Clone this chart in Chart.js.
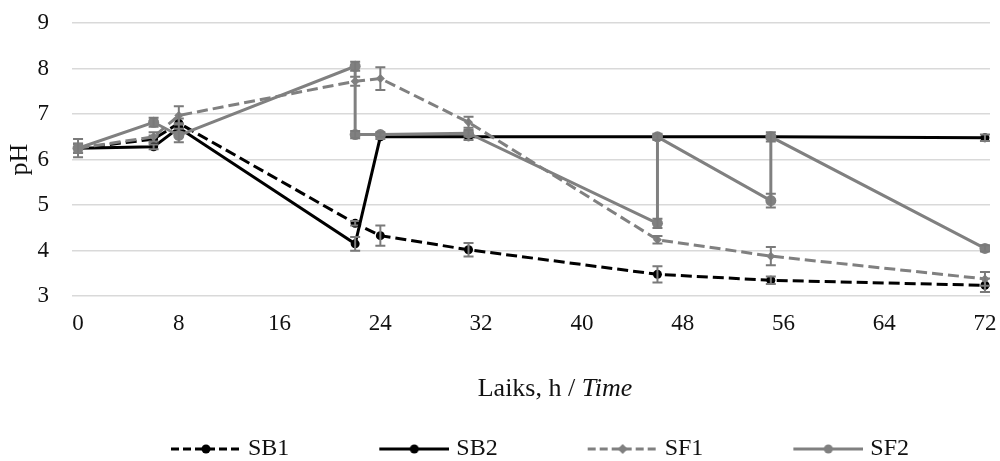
<!DOCTYPE html>
<html>
<head>
<meta charset="utf-8">
<script src="https://cdn.jsdelivr.net/npm/chart.js@4.4.1/dist/chart.umd.min.js"></script>
<style>
  html, body { margin: 0; padding: 0; background: #fff; }
  #wrap { width: 1000px; height: 461px; }
</style>
</head>
<body>
<div id="wrap"><canvas id="phChart"></canvas></div>
<script>
// sampling times (h)
const hours = [0, 6, 8, 22, 24, 31, 46, 55, 72];
// SF2 has a second reading at 22, 46 and 55 h (after re-feeding)
const hoursSF2 = [0, 6, 8, 22, 22, 24, 31, 46, 46, 55, 55, 72];

const sb1 = [6.25, 6.45, 6.8, 4.6, 4.33, 4.02, 3.48, 3.35, 3.24];
const sb1Err = [0.1, 0.08, 0.1, 0.05, 0.22, 0.15, 0.18, 0.08, 0.15];

const sb2 = [6.25, 6.28, 6.7, 4.15, 6.5, 6.5, 6.5, 6.5, 6.48];
const sb2Err = [0.1, 0.05, 0.1, 0.15, 0.05, 0.07, 0.05, 0.05, 0.07];

const sf1 = [6.25, 6.5, 6.97, 7.72, 7.78, 6.82, 4.24, 3.88, 3.38];
const sf1Err = [0.1, 0.1, 0.2, 0.1, 0.25, 0.12, 0.08, 0.2, 0.15];

const sf2 = [6.25, 6.82, 6.53, 8.05, 6.55, 6.55, 6.58, 4.6, 6.5, 5.1, 6.5, 4.05];
const sf2Err = [0.2, 0.1, 0.15, 0.1, 0.08, 0.05, 0.07, 0.1, 0.07, 0.15, 0.1, 0.07];

const xTicks = [0, 8, 16, 24, 32, 40, 48, 56, 64, 72];
const yTicks = [3, 4, 5, 6, 7, 8, 9];

const BLACK = '#000000';
const GREY = '#808080';
const TEXT = '#111111';
const FONT = "'Liberation Serif', 'Times New Roman', serif";

function points(xs, ys) {
    return xs.map((x, i) => ({ x: x, y: ys[i] }));
}

// line + marker sample for the legend; blank left part acts as item spacing,
// the canvas is a bit wider than the legend box so the line ends close to the text
function legendSample(color, dash, marker) {
    const c = document.createElement('canvas');
    c.width = 165;
    c.height = 14;
    const g = c.getContext('2d');
    const x0 = 95, x1 = 165, mid = (x0 + x1) / 2;
    g.strokeStyle = color;
    g.lineWidth = 3;
    g.setLineDash(dash);
    g.beginPath();
    g.moveTo(x0, 7);
    g.lineTo(x1, 7);
    g.stroke();
    g.setLineDash([]);
    g.fillStyle = color;
    g.beginPath();
    if (marker === 'diamond') {
        g.moveTo(mid, 2); g.lineTo(mid + 5, 7); g.lineTo(mid, 12); g.lineTo(mid - 5, 7);
        g.closePath();
    } else {
        g.arc(mid, 7, 4.5, 0, Math.PI * 2);
    }
    g.fill();
    return c;
}

// vertical error bars with caps
const errorBars = {
    id: 'errorBars',
    afterDatasetDraw(chart, args) {
        const ds = chart.data.datasets[args.index];
        if (!ds.errors) return;
        const ctx = chart.ctx;
        const x = chart.scales.x, y = chart.scales.y;
        ctx.save();
        ctx.strokeStyle = '#7a7a7a';
        ctx.lineWidth = 2;
        ds.data.forEach((p, i) => {
            const e = ds.errors[i];
            const px = x.getPixelForValue(p.x);
            const top = y.getPixelForValue(p.y + e);
            const bot = y.getPixelForValue(p.y - e);
            ctx.beginPath();
            ctx.moveTo(px, top); ctx.lineTo(px, bot);
            ctx.moveTo(px - 5, top); ctx.lineTo(px + 5, top);
            ctx.moveTo(px - 5, bot); ctx.lineTo(px + 5, bot);
            ctx.stroke();
        });
        ctx.restore();
    }
};

// x-axis title with an italic part
const xTitle = {
    id: 'xTitle',
    afterDraw(chart) {
        const ctx = chart.ctx;
        const sx = chart.scales.x;
        const size = 26, lh = size * 1.2, padBottom = 32;
        const y = sx.bottom - padBottom - lh / 2;
        const partA = 'Laiks, h / ';
        const partB = 'Time';
        ctx.save();
        ctx.textBaseline = 'middle';
        ctx.fillStyle = TEXT;
        ctx.font = size + 'px ' + FONT;
        const wA = ctx.measureText(partA).width;
        ctx.font = 'italic ' + size + 'px ' + FONT;
        const wB = ctx.measureText(partB).width;
        const cx = (chart.chartArea.left + chart.chartArea.right) / 2 + 24;
        const start = cx - (wA + wB) / 2;
        ctx.textAlign = 'left';
        ctx.font = size + 'px ' + FONT;
        ctx.fillText(partA, start, y);
        ctx.font = 'italic ' + size + 'px ' + FONT;
        ctx.fillText(partB, start + wA, y);
        ctx.restore();
    }
};

const samples = [
    legendSample(BLACK, [8, 4], 'circle'),
    legendSample(BLACK, [], 'circle'),
    legendSample(GREY, [8, 4], 'diamond'),
    legendSample(GREY, [], 'circle')
];

const ctx = document.getElementById('phChart').getContext('2d');
new Chart(ctx, {
    type: 'line',
    data: {
        datasets: [
            {
                label: 'SB1',
                data: points(hours, sb1),
                errors: sb1Err,
                borderColor: BLACK,
                backgroundColor: BLACK,
                borderWidth: 3,
                borderDash: [11, 5],
                pointRadius: 4.5,
                pointBackgroundColor: BLACK,
                pointBorderWidth: 0,
                order: 4
            },
            {
                label: 'SB2',
                data: points(hours, sb2),
                errors: sb2Err,
                borderColor: BLACK,
                backgroundColor: BLACK,
                borderWidth: 3,
                pointRadius: 4.5,
                pointBackgroundColor: BLACK,
                pointBorderWidth: 0,
                order: 3
            },
            {
                label: 'SF1',
                data: points(hours, sf1),
                errors: sf1Err,
                borderColor: GREY,
                backgroundColor: GREY,
                borderWidth: 3,
                borderDash: [11, 5],
                pointStyle: 'rectRot',
                pointRadius: 4.5,
                pointBackgroundColor: GREY,
                pointBorderWidth: 0,
                order: 2
            },
            {
                label: 'SF2',
                data: points(hoursSF2, sf2),
                errors: sf2Err,
                borderColor: GREY,
                backgroundColor: GREY,
                borderWidth: 3,
                pointRadius: 5.5,
                pointBackgroundColor: GREY,
                pointBorderWidth: 0,
                order: 1
            }
        ]
    },
    options: {
        responsive: true,
        maintainAspectRatio: false,
        animation: false,
        layout: {
            padding: { top: 23, right: 10, bottom: 0, left: 0 }
        },
        elements: {
            line: { tension: 0, fill: false }
        },
        plugins: {
            tooltip: { enabled: false },
            legend: {
                position: 'bottom',
                maxHeight: 24,
                labels: {
                    usePointStyle: true,
                    pointStyleWidth: 155,
                    padding: 0,
                    color: TEXT,
                    font: { family: FONT, size: 24 },
                    generateLabels(chart) {
                        return chart.data.datasets.map((ds, i) => ({
                            text: ds.label,
                            pointStyle: samples[i],
                            fontColor: TEXT,
                            fillStyle: ds.borderColor,
                            strokeStyle: ds.borderColor,
                            lineWidth: 1,
                            hidden: false,
                            datasetIndex: i
                        }));
                    }
                }
            }
        },
        scales: {
            x: {
                type: 'linear',
                min: -0.48,
                max: 72.4,
                afterBuildTicks(scale) {
                    scale.ticks = xTicks.map(v => ({ value: v }));
                },
                afterFit(scale) {
                    scale.paddingLeft = 0;
                    scale.paddingRight = 0;
                },
                grid: { display: false, drawTicks: false },
                border: { display: false },
                ticks: {
                    padding: 14,
                    color: TEXT,
                    maxRotation: 0,
                    autoSkip: false,
                    font: { family: FONT, size: 23 }
                },
                title: {
                    display: true,
                    text: '',
                    font: { family: FONT, size: 26 },
                    padding: { top: 22, bottom: 32 }
                }
            },
            y: {
                min: 3,
                max: 9,
                afterBuildTicks(scale) {
                    scale.ticks = yTicks.map(v => ({ value: v }));
                },
                afterFit(scale) {
                    scale.width = 72;
                    scale.paddingTop = 0;
                    scale.paddingBottom = 0;
                },
                grid: { color: '#d9d9d9', lineWidth: 1.5, drawTicks: false },
                border: { display: false },
                ticks: {
                    padding: 23,
                    color: TEXT,
                    font: { family: FONT, size: 23 }
                },
                title: {
                    display: true,
                    text: 'pH',
                    color: TEXT,
                    font: { family: FONT, size: 26 },
                    padding: { top: 5, bottom: 0 }
                }
            }
        }
    },
    plugins: [errorBars, xTitle]
});
</script>
</body>
</html>
